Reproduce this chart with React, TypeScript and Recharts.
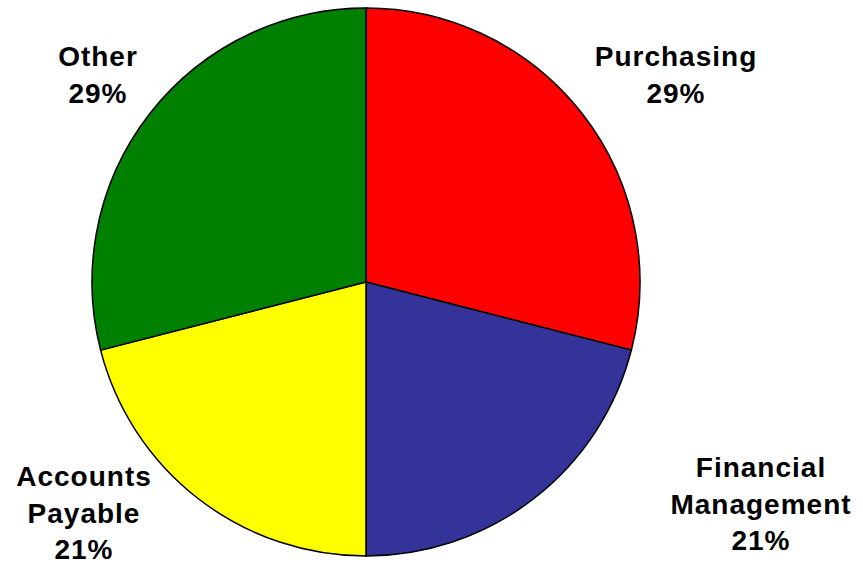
import { PieChart, Pie, Cell } from 'recharts'

const categories = ['Purchasing', 'Financial Management', 'Accounts Payable', 'Other']
const shares = [29, 21, 21, 29]
const colors = ['#FF0000', '#333399', '#FFFF00', '#008000']

// label lines per slice (line breaks as in the original)
const labelLines = [['Purchasing'], ['Financial', 'Management'], ['Accounts', 'Payable'], ['Other']]
// label anchor offsets relative to the pie centre
const labelOffsets = [
  { dx: 310, dy: -216 },
  { dx: 395, dy: 195 },
  { dx: -282, dy: 204 },
  { dx: -268, dy: -216 },
]

const data = categories.map((name, i) => ({ name, value: shares[i] }))

// eslint-disable-next-line @typescript-eslint/no-explicit-any
function renderLabel(props: any) {
  const { cx, cy, index, percent } = props
  const off = labelOffsets[index]
  const lines = [...labelLines[index], `${Math.round(percent * 100)}%`]
  return (
    <text
      key={`lbl-${index}`}
      x={cx + off.dx}
      y={cy + off.dy}
      textAnchor="middle"
      fill="#000"
      fontFamily="'Liberation Sans', Arial, sans-serif"
      fontWeight="bold"
      fontSize={28}
      letterSpacing={1}
    >
      {lines.map((l, i) => (
        <tspan key={i} x={cx + off.dx} dy={i === 0 ? 0 : 36.5}>
          {l}
        </tspan>
      ))}
    </text>
  )
}

export default function App() {
  return (
    <div style={{ position: 'absolute', left: 0, top: 0, width: 863, height: 570, background: '#fff' }}>
      <PieChart width={863} height={570} margin={{ top: 0, right: 0, bottom: 0, left: 0 }}>
        <Pie
          data={data}
          dataKey="value"
          nameKey="name"
          cx={366}
          cy={282}
          outerRadius={274}
          startAngle={90}
          endAngle={-270}
          stroke="#000"
          strokeWidth={1.5}
          label={renderLabel}
          labelLine={false}
          isAnimationActive={false}
        >
          {data.map((entry, index) => (
            <Cell key={`cell-${index}`} fill={colors[index]} />
          ))}
        </Pie>
      </PieChart>
    </div>
  )
}
